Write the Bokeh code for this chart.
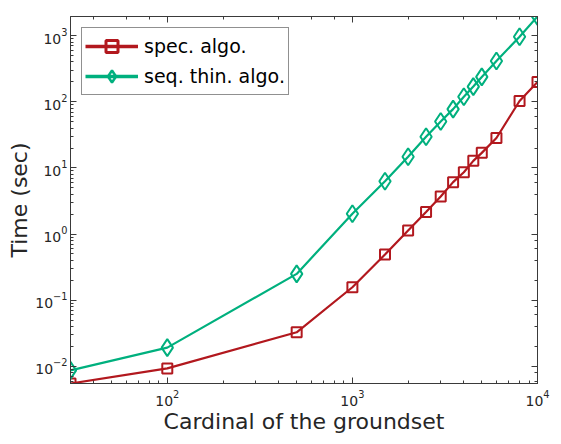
from bokeh.plotting import figure
from bokeh.models import (LogAxis, Range1d, LogTicker, LogScale, ColumnDataSource, Legend,
                          LegendItem, CustomJSTickFormatter)
from bokeh.embed import file_html
from bokeh.resources import INLINE

# data
n = [30, 100, 500, 1000, 1500, 2000, 2500, 3000, 3500, 4000, 4500, 5000, 6000, 8000, 10000]
spec_time = [0.0055, 0.0093, 0.0327, 0.157, 0.49, 1.13, 2.16, 3.7, 6.1, 8.6, 12.8, 16.9, 28.4, 103, 200]
seq_time = [0.0087, 0.0192, 0.25, 2.03, 6.3, 14.8, 29.6, 50.4, 77.5, 119, 170, 238, 415, 965, 1950]
labels = ["spec. algo.", "seq. thin. algo."]

RED = "#B2181E"
GREEN = "#00B07E"
TXT = "#262626"
AX = "#3a3a3a"
FONT = "DejaVu Sans"

p = figure(width=561, height=444, x_axis_type="log", y_axis_type="log",
           x_range=Range1d(30, 10000), y_range=Range1d(0.0055, 1950),
           output_backend="svg", toolbar_location=None,
           min_border_left=70, min_border_right=24, min_border_top=16, min_border_bottom=61)
p.xgrid.visible = False
p.ygrid.visible = False
p.outline_line_color = AX
p.background_fill_color = "white"

src = ColumnDataSource(dict(n=n, spec=spec_time, seq=seq_time))
p.line("n", "spec", source=src, color=RED, line_width=2.2)
p.scatter("n", "spec", source=src, marker="square", size=10, line_color=RED,
          fill_color=None, line_width=2)
p.line("n", "seq", source=src, color=GREEN, line_width=2.2)
p.scatter("n", "seq", source=src, marker="diamond", size=17, line_color=GREEN,
          fill_color=None, line_width=2)

# legend proxies (thicker, as in the reference legend), drawn on a hidden range
p.extra_y_ranges = {"hide": Range1d(1e10, 1e11)}
p.extra_y_scales = {"hide": LogScale()}
l1 = p.line("n", "spec", source=src, color=RED, line_width=3.3, y_range_name="hide")
k1 = p.scatter("n", "spec", source=src, marker="square", size=12, line_color=RED,
               fill_color=None, line_width=3, y_range_name="hide")
l2 = p.line("n", "seq", source=src, color=GREEN, line_width=3.3, y_range_name="hide")
k2 = p.scatter("n", "seq", source=src, marker="diamond", size=22, line_color=GREEN,
               fill_color=None, line_width=2.5, y_range_name="hide")

for ax in (p.xaxis[0], p.yaxis[0]):
    ax.axis_line_color = AX
    ax.major_tick_line_color = AX
    ax.minor_tick_line_color = AX
    ax.major_tick_in = 6
    ax.major_tick_out = 0
    ax.minor_tick_in = 3
    ax.minor_tick_out = 0
    ax.major_label_text_font = FONT
    ax.major_label_text_font_size = "14px"
    ax.major_label_text_color = TXT
    ax.axis_label_text_font = FONT
    ax.axis_label_text_font_style = "normal"
    ax.axis_label_text_font_size = "22px"
    ax.axis_label_text_color = TXT

p.xaxis[0].axis_label = "Cardinal of the groundset"
p.yaxis[0].axis_label = "Time (sec)"
p.xaxis[0].major_label_standoff = 6
p.xaxis[0].axis_label_standoff = 0
p.yaxis[0].major_label_standoff = 3
p.yaxis[0].axis_label_standoff = 0

for loc in ("above", "right"):
    a = LogAxis(ticker=LogTicker(), formatter=CustomJSTickFormatter(code="return ''"))
    a.axis_line_color = AX
    a.major_tick_line_color = AX
    a.minor_tick_line_color = AX
    a.major_tick_in = 6
    a.major_tick_out = 0
    a.minor_tick_in = 3
    a.minor_tick_out = 0
    a.major_label_standoff = 0
    p.add_layout(a, loc)

legend = Legend(items=[LegendItem(label=labels[0], renderers=[l1, k1]),
                       LegendItem(label=labels[1], renderers=[l2, k2])],
                location="top_left")
legend.label_text_font = FONT
legend.label_text_font_size = "19px"
legend.label_text_color = "black"
legend.border_line_color = "#222222"
legend.border_line_width = 1
legend.background_fill_alpha = 1
legend.glyph_width = 53
legend.glyph_height = 30
legend.label_height = 24
legend.spacing = -4
legend.padding = 3
legend.margin = 11
legend.label_standoff = 6
p.add_layout(legend, "center")

open("out.html", "w").write(file_html(p, INLINE))
